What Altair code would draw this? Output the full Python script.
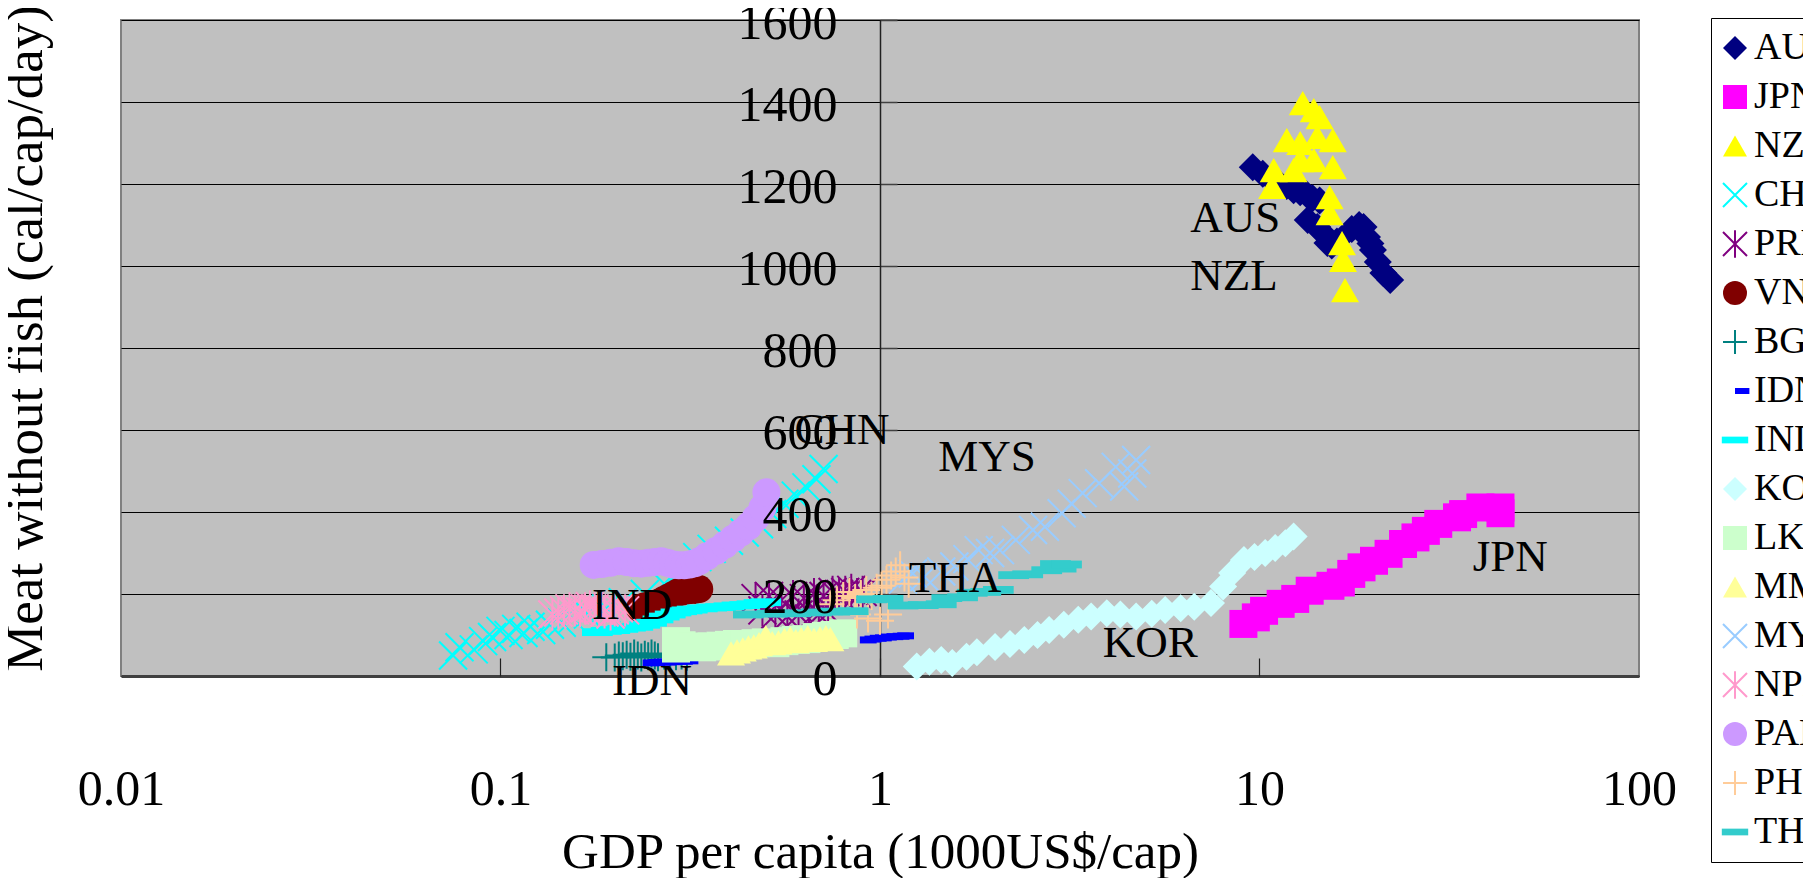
import altair as alt
import pandas as pd

FONT = "Liberation Serif"

COUNTRIES = ["AUS", "JPN", "NZL", "CHN", "PRK", "VNM", "BGD", "IDN", "IND",
             "KOR", "LKA", "MMR", "MYS", "NPL", "PAK", "PHL", "THA"]

AUS_GDP = [9.6, 10.2, 10.8, 11.3, 11.8, 12.3, 12.8, 13.3, 13.8, 14.4, 13.4, 14.2, 14.7, 15.1, 15.5, 16.0, 17.5, 18.3, 18.8, 19.2, 19.6, 19.9, 20.5, 21.2, 22.1]
AUS_MEAT = [1241, 1225, 1210, 1200, 1195, 1185, 1180, 1175, 1165, 1160, 1112, 1095, 1080, 1056, 1050, 1060, 1090, 1100, 1095, 1071, 1055, 1039, 1010, 983, 966]

JPN_GDP = [9.07, 9.78, 10.28, 11.37, 12.42, 13.56, 15.38, 16.38, 17.45, 18.57, 20.03, 21.88, 23.89, 25.76, 27.44, 29.58, 33.14, 34.40, 38.2, 43.15, 43.15]
JPN_MEAT = [127, 143, 159, 176, 188, 208, 220, 228, 249, 265, 281, 298, 322, 338, 354, 371, 387, 395, 411, 411, 397]

NZL_GDP = [10.8, 10.9, 11.8, 12.3, 12.8, 12.8, 13.0, 13.9, 14.4, 14.2, 13.9, 15.6, 15.6, 15.3, 15.3, 16.5, 16.6, 16.8]
NZL_MEAT = [1193, 1234, 1307, 1234, 1258, 1300, 1397, 1380, 1363, 1315, 1258, 1307, 1241, 1168, 1129, 1056, 1015, 941]

CHN_GDP = [0.075, 0.078, 0.085, 0.09, 0.095, 0.1, 0.105, 0.11, 0.115, 0.12, 0.128, 0.135, 0.145, 0.155, 0.17, 0.19, 0.21, 0.24, 0.27, 0.3, 0.33, 0.36, 0.4, 0.44, 0.48, 0.52, 0.56, 0.6, 0.64, 0.68, 0.71]
CHN_MEAT = [50, 70, 65, 85, 95, 110, 100, 115, 105, 120, 112, 125, 130, 140, 150, 165, 180, 200, 225, 260, 290, 310, 330, 350, 370, 395, 420, 440, 460, 480, 505]

PRK_GDP = [0.47, 0.49, 0.51, 0.53, 0.55, 0.57, 0.59, 0.61, 0.63, 0.65, 0.67, 0.69, 0.71, 0.73, 0.75, 0.78, 0.81, 0.84, 0.87, 0.9]
PRK_MEAT = [190, 160, 195, 150, 185, 145, 195, 150, 190, 140, 200, 150, 195, 155, 205, 200, 205, 210, 200, 205]

VNM_GDP = [0.233, 0.24, 0.247, 0.255, 0.263, 0.27, 0.278, 0.286, 0.294, 0.302, 0.31, 0.318, 0.326, 0.334]
VNM_MEAT = [165, 170, 172, 176, 180, 186, 192, 198, 204, 206, 208, 210, 210, 212]

BGD_GDP = [0.19, 0.2, 0.205, 0.21, 0.215, 0.22, 0.225, 0.23, 0.235, 0.24, 0.245, 0.25, 0.255, 0.26, 0.27, 0.28, 0.29, 0.30, 0.31]
BGD_MEAT = [46, 45, 50, 48, 52, 47, 55, 50, 45, 52, 48, 55, 50, 46, 50, 52, 48, 50, 47]

IDN_GDP = [0.237, 0.245, 0.253, 0.262, 0.27, 0.28, 0.29, 0.3, 0.885, 0.91, 0.94, 0.97, 1.0, 1.04, 1.08, 1.11]
IDN_MEAT = [32, 33, 34, 34, 35, 36, 36, 37, 88, 90, 92, 93, 95, 96, 97, 98]

IND_GDP = [0.18, 0.19, 0.2, 0.21, 0.22, 0.23, 0.24, 0.25, 0.26, 0.27, 0.28, 0.29, 0.3, 0.31, 0.32, 0.34, 0.36, 0.38, 0.4, 0.42, 0.44, 0.46, 0.48, 0.5]
IND_MEAT = [107, 110, 112, 115, 118, 120, 125, 130, 138, 145, 150, 155, 158, 160, 162, 165, 167, 168, 170, 172, 173, 175, 178, 180]

KOR_GDP = [1.25, 1.35, 1.45, 1.55, 1.69, 1.8, 2.01, 2.2, 2.40, 2.6, 2.79, 3.05, 3.33, 3.6, 3.96, 4.3, 4.73, 5.2, 5.64, 6.2, 6.73, 7.45, 8.02, 8.47, 9.1, 9.7, 10.35, 11.0, 11.7, 12.3]
KOR_MEAT = [23, 35, 39, 32, 47, 58, 71, 78, 88, 100, 112, 125, 137, 145, 153, 150, 145, 152, 161, 165, 169, 178, 218, 251, 283, 290, 300, 312, 324, 340]

LKA_GDP = [0.29, 0.29, 0.3, 0.32, 0.34, 0.36, 0.38, 0.4, 0.42, 0.44, 0.47, 0.5, 0.53, 0.56, 0.6, 0.64, 0.68, 0.72, 0.76, 0.8]
LKA_MEAT = [67, 85, 75, 72, 70, 72, 74, 76, 78, 75, 80, 82, 80, 85, 88, 90, 95, 98, 100, 104]

MMR_GDP = [0.405, 0.42, 0.435, 0.45, 0.465, 0.48, 0.5, 0.52, 0.54, 0.56, 0.58, 0.6, 0.62, 0.645, 0.67, 0.695, 0.72, 0.74]
MMR_MEAT = [55, 60, 65, 70, 72, 78, 95, 80, 82, 88, 92, 85, 90, 95, 88, 92, 95, 90]

MYS_GDP = [1.15, 1.22, 1.31, 1.45, 1.57, 1.7, 1.82, 1.95, 2.07, 2.28, 2.53, 2.72, 3.01, 3.2, 3.42, 3.78, 4.18, 4.40, 4.62, 4.73]
MYS_MEAT = [235, 250, 242, 255, 267, 285, 307, 300, 307, 332, 356, 364, 397, 420, 446, 470, 510, 462, 494, 527]

NPL_GDP = [0.137, 0.142, 0.147, 0.152, 0.157, 0.162, 0.167, 0.172, 0.177, 0.182, 0.188, 0.195, 0.2, 0.205, 0.213]
NPL_MEAT = [150, 155, 160, 165, 160, 158, 165, 170, 165, 160, 155, 150, 160, 165, 160]

PAK_GDP = [0.176, 0.185, 0.195, 0.205, 0.215, 0.225, 0.235, 0.245, 0.255, 0.265, 0.275, 0.285, 0.295, 0.305, 0.315, 0.325, 0.334, 0.35, 0.37, 0.39, 0.41, 0.43, 0.45, 0.47, 0.49, 0.502]
PAK_MEAT = [271, 273, 276, 280, 278, 275, 274, 276, 278, 280, 276, 272, 270, 270, 272, 275, 280, 292, 305, 320, 335, 350, 365, 385, 410, 448]

PHL_GDP = [0.74, 0.77, 0.80, 0.83, 0.86, 0.89, 0.92, 0.95, 0.98, 1.01, 1.04, 1.07, 1.10, 1.13, 1.16, 1.19, 1.05, 1.0, 0.93, 0.87]
PHL_MEAT = [175, 185, 195, 205, 190, 200, 210, 195, 215, 220, 235, 245, 255, 270, 240, 225, 150, 135, 140, 150]

THA_GDP = [0.45, 0.52, 0.6, 0.68, 0.76, 0.85, 0.95, 1.05, 1.15, 1.3, 1.45, 1.5, 1.65, 1.75, 1.9, 2.05, 2.25, 2.45, 2.75, 3.0, 2.9, 3.1]
THA_MEAT = [150, 152, 153, 155, 157, 158, 187, 188, 172, 173, 175, 190, 192, 203, 205, 210, 246, 248, 258, 262, 273, 272]

SERIES = {
    "AUS": (AUS_GDP, AUS_MEAT), "JPN": (JPN_GDP, JPN_MEAT), "NZL": (NZL_GDP, NZL_MEAT),
    "CHN": (CHN_GDP, CHN_MEAT), "PRK": (PRK_GDP, PRK_MEAT), "VNM": (VNM_GDP, VNM_MEAT),
    "BGD": (BGD_GDP, BGD_MEAT), "IDN": (IDN_GDP, IDN_MEAT), "IND": (IND_GDP, IND_MEAT),
    "KOR": (KOR_GDP, KOR_MEAT), "LKA": (LKA_GDP, LKA_MEAT), "MMR": (MMR_GDP, MMR_MEAT),
    "MYS": (MYS_GDP, MYS_MEAT), "NPL": (NPL_GDP, NPL_MEAT), "PAK": (PAK_GDP, PAK_MEAT),
    "PHL": (PHL_GDP, PHL_MEAT), "THA": (THA_GDP, THA_MEAT),
}

LABELS = ["AUS", "NZL", "CHN", "MYS", "THA", "IND", "IDN", "KOR", "JPN"]
LABEL_GDP = [8.63, 8.57, 0.794, 1.915, 1.577, 0.222, 0.2506, 5.15, 45.8]
LABEL_MEAT = [1117, 976, 600, 534, 239, 173, -12, 80, 290]

X_TICKS = [0.01, 0.1, 1, 10, 100]
Y_TICKS = [0, 200, 400, 600, 800, 1000, 1200, 1400, 1600]

XMARK = "M-1,-1L1,1M-1,1L1,-1"
ASTER = "M-1,-1L1,1M-1,1L1,-1M0,-1.15L0,1.15"
PLUS = "M-1,0L1,0M0,-1L0,1"
SDASH = "M0,-0.25L1.2,-0.25L1.2,0.25L0,0.25Z"
LDASH = "M-1.1,-0.28L1.1,-0.28L1.1,0.28L-1.1,0.28Z"

SHAPES = ["diamond", "square", "triangle-up", XMARK, ASTER, "circle", PLUS, SDASH, LDASH,
          "diamond", "square", "triangle-up", XMARK, ASTER, "circle", PLUS, LDASH]
T = "transparent"
FILLS = ["#000080", "#FF00FF", "#FFFF00", T, T, "#800000", T, "#0000FF", "#00FFFF",
         "#CCFFFF", "#CCFFCC", "#FFFF99", T, T, "#CC99FF", T, "#33CCCC"]
STROKES = [T, T, T, "#00FFFF", "#800080", T, "#008080", T, T,
           T, T, T, "#99CCFF", "#FF99CC", T, "#FFCC99", T]

rows = []
for c in COUNTRIES:
    gx, my = SERIES[c]
    for a, b in zip(gx, my):
        rows.append({"country": c, "gdp": a, "meat": b})
pts = pd.DataFrame(rows)
pts["order"] = range(len(pts))
lab = pd.DataFrame({"label": LABELS, "gdp": LABEL_GDP, "meat": LABEL_MEAT})

W, H = 1518, 656
XPOS = 759  # pixel position of x = 1 in the plot

xscale = alt.Scale(type="log", domain=[0.01, 100], nice=False)
yscale = alt.Scale(domain=[0, 1600], nice=False, zero=False)

legend = alt.Legend(orient="none", legendX=1590, legendY=-2, title=None, padding=11,
                    rowPadding=11, labelFont=FONT, labelFontSize=38, labelColor="black",
                    labelOffset=0, symbolOffset=-6, symbolSize=576, symbolStrokeWidth=2,
                    strokeColor="black", fillColor="white", symbolOpacity=1)

points = alt.Chart(pts).mark_point(size=784, strokeWidth=2, opacity=1).encode(
    x=alt.X("gdp:Q", scale=xscale, axis=alt.Axis(
        orient="bottom", values=X_TICKS, labelExpr="'' + datum.value",
        labelFont=FONT, labelFontSize=50, labelColor="black", labelPadding=128,
        labelBaseline="alphabetic", labelFlush=False, labelOverlap=False,
        ticks=False, tickSize=0, grid=False, domainColor="#404040", domainWidth=3,
        title="GDP per capita (1000US$/cap)", titleFont=FONT, titleFontSize=51,
        titleFontWeight="normal", titleColor="black", titleX=759, titleY=191,
        titleAlign="center", titleBaseline="alphabetic", zindex=0)),
    y=alt.Y("meat:Q", scale=yscale, axis=alt.Axis(
        orient="right", offset=-(W - XPOS), values=Y_TICKS, labels=False,
        ticks=True, tickSize=17, tickColor="#404040", tickWidth=1.5,
        grid=True, gridColor="black", gridWidth=1.2, domain=True,
        domainColor="#202020", domainWidth=1.5, title=None, zindex=0)),
    shape=alt.Shape("country:N", scale=alt.Scale(domain=COUNTRIES, range=SHAPES), legend=legend, sort=COUNTRIES),
    fill=alt.Fill("country:N", scale=alt.Scale(domain=COUNTRIES, range=FILLS), legend=legend, sort=COUNTRIES),
    stroke=alt.Stroke("country:N", scale=alt.Scale(domain=COUNTRIES, range=STROKES), legend=legend, sort=COUNTRIES),
    order=alt.Order("order:Q"),
)

texts = alt.Chart(lab).mark_text(font=FONT, fontSize=45, color="black",
                                 align="center", baseline="middle").encode(
    x=alt.X("gdp:Q", scale=xscale, axis=alt.Axis(
        orient="top", offset=-H, values=[0.1, 1, 10], labels=False, ticks=True,
        tickSize=18, tickColor="#202020", tickWidth=1.2, domain=False, grid=False,
        title=None)),
    y=alt.Y("meat:Q", scale=yscale, axis=alt.Axis(
        orient="left", offset=-XPOS, values=Y_TICKS, format="d",
        labelFont=FONT, labelFontSize=50, labelColor="black", labelPadding=43,
        labelAlign="right", labelBaseline="middle", labelOffset=3,
        labelFlush=False, labelOverlap=False,
        ticks=False, tickSize=0, domain=False, grid=False,
        title="Meat without fish (cal/cap/day)", titleFont=FONT, titleFontSize=53,
        titleFontWeight="normal", titleColor="black", titleAngle=270,
        titleX=-839, titleY=318, titleAlign="center", titleBaseline="alphabetic",
        zindex=1)),
    text="label:N",
)

chart = alt.layer(points, texts).resolve_axis(x="independent", y="independent").properties(
    width=W, height=H,
    padding={"left": 113, "top": 12, "right": 164, "bottom": 202},
    autosize=alt.AutoSizeParams(type="none"),
    background="white",
).configure_view(fill="#C0C0C0", stroke="#808080", strokeWidth=2)

chart.save("out.html", embed_options={"renderer": "svg", "actions": False})
